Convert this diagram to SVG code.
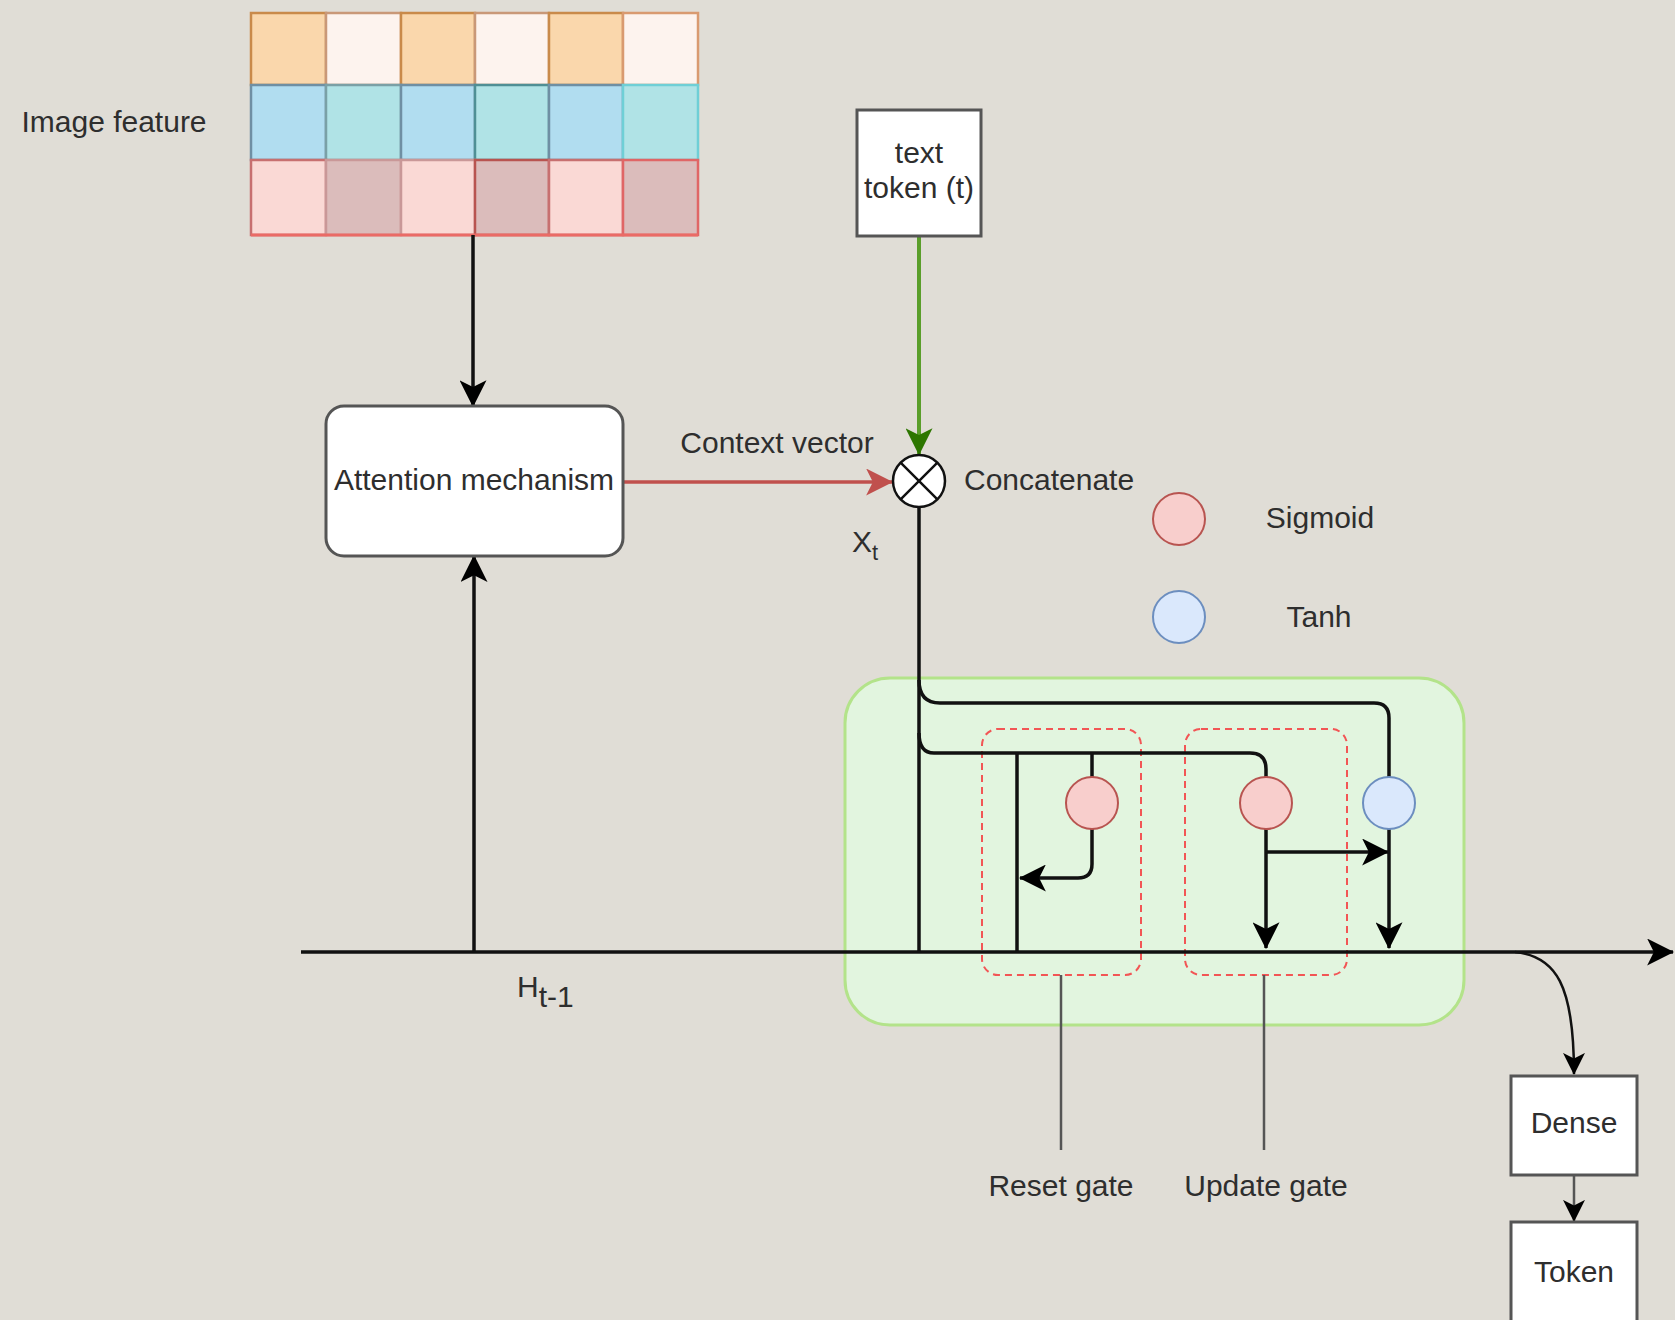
<svg xmlns="http://www.w3.org/2000/svg" width="1675" height="1320" viewBox="0 0 1675 1320">
<style>
text{font-family:"Liberation Sans",Arial,sans-serif;font-size:30px;fill:#2e2e2e;}
.mid{text-anchor:middle;}
.ln{fill:none;stroke:#111;stroke-width:3.5;}
.thin{fill:none;stroke:#555;stroke-width:2.5;}
.box{fill:#fff;stroke:#555;stroke-width:3;}
.dash{fill:none;stroke:#f25555;stroke-width:2;stroke-dasharray:7 5;}
.sig{fill:#f8cecc;stroke:#b85450;stroke-width:2;}
.tanh{fill:#dae8fc;stroke:#6c8ebf;stroke-width:2;}
</style>
<defs>
<marker id="a" viewBox="0 0 24 24" refX="23" refY="12" markerWidth="27" markerHeight="27" markerUnits="userSpaceOnUse" orient="auto"><path d="M0,0 L24,12 L0,24 L6,12 Z" fill="#000"/></marker>
<marker id="as" viewBox="0 0 24 24" refX="23" refY="12" markerWidth="22" markerHeight="22" markerUnits="userSpaceOnUse" orient="auto"><path d="M0,0 L24,12 L0,24 L6,12 Z" fill="#000"/></marker>
<marker id="ar" viewBox="0 0 24 24" refX="23" refY="12" markerWidth="27" markerHeight="27" markerUnits="userSpaceOnUse" orient="auto"><path d="M0,0 L24,12 L0,24 L6,12 Z" fill="#c0504d"/></marker>
<marker id="ag" viewBox="0 0 24 24" refX="23" refY="12" markerWidth="28" markerHeight="27" markerUnits="userSpaceOnUse" orient="auto"><path d="M0,0 L24,12 L0,24 L6,12 Z" fill="#2d7600"/></marker>
</defs>
<rect width="1675" height="1320" fill="#e0ddd6"/>

<g id="image-feature">
<rect x="251" y="13" width="75" height="72" fill="#fad7ac" stroke="#c98a4a" stroke-width="2.5"/>
<rect x="326" y="13" width="75" height="72" fill="#fdf3ee" stroke="#c99878" stroke-width="2.5"/>
<rect x="401" y="13" width="74" height="72" fill="#fad7ac" stroke="#c98a4a" stroke-width="2.5"/>
<rect x="475" y="13" width="74" height="72" fill="#fdf3ee" stroke="#c99878" stroke-width="2.5"/>
<rect x="549" y="13" width="74" height="72" fill="#fad7ac" stroke="#c98a4a" stroke-width="2.5"/>
<rect x="623" y="13" width="75" height="72" fill="#fdf3ee" stroke="#d99a70" stroke-width="2.5"/>
<rect x="251" y="85" width="75" height="75" fill="#b1ddf0" stroke="#6f8fa3" stroke-width="2.5"/>
<rect x="326" y="85" width="75" height="75" fill="#b0e3e6" stroke="#7aa0a6" stroke-width="2.5"/>
<rect x="401" y="85" width="74" height="75" fill="#b1ddf0" stroke="#6f8fa3" stroke-width="2.5"/>
<rect x="475" y="85" width="74" height="75" fill="#b0e3e6" stroke="#4f8f95" stroke-width="2.5"/>
<rect x="549" y="85" width="74" height="75" fill="#b1ddf0" stroke="#6f8fa3" stroke-width="2.5"/>
<rect x="623" y="85" width="75" height="75" fill="#b0e3e6" stroke="#6fcfd6" stroke-width="2.5"/>
<rect x="251" y="160" width="75" height="75" fill="#fad9d5" stroke="#c77070" stroke-width="2.5"/>
<rect x="326" y="160" width="75" height="75" fill="#dbbcbb" stroke="#c99898" stroke-width="2.5"/>
<rect x="401" y="160" width="74" height="75" fill="#fad9d5" stroke="#c99898" stroke-width="2.5"/>
<rect x="475" y="160" width="74" height="75" fill="#dbbcbb" stroke="#b85450" stroke-width="2.5"/>
<rect x="549" y="160" width="74" height="75" fill="#fad9d5" stroke="#c77070" stroke-width="2.5"/>
<rect x="623" y="160" width="75" height="75" fill="#dbbcbb" stroke="#e06666" stroke-width="2.5"/>
<line x1="251" y1="235" x2="698" y2="235" stroke="#ea6b66" stroke-width="3"/>
</g>
<g id="image-feature-label"><text class="mid" x="114" y="132">Image feature</text></g>

<g id="green-cell">
<rect x="845" y="678" width="619" height="347" rx="45" fill="#e2f5df" stroke="#b3e38a" stroke-width="3"/>
</g>
<g id="reset-gate-box"><rect x="982" y="729" width="159" height="246" rx="16" class="dash"/></g>
<g id="update-gate-box"><rect x="1185" y="729" width="162" height="246" rx="16" class="dash"/></g>

<g id="connectors">
<line x1="473" y1="235" x2="473" y2="406" class="ln" marker-end="url(#a)"/>
<line x1="301" y1="952" x2="1673" y2="952" class="ln" marker-end="url(#a)"/>
<line x1="474" y1="952" x2="474" y2="556" class="ln" marker-end="url(#a)"/>
<line x1="624" y1="482" x2="892" y2="482" fill="none" stroke="#c0504d" stroke-width="3.5" marker-end="url(#ar)"/>
<line x1="919" y1="237" x2="919" y2="454" fill="none" stroke="#5a9e2a" stroke-width="4" marker-end="url(#ag)"/>
<path d="M919,507 L919,952" class="ln"/>
<path d="M919,680 Q919,703 940,703 L1374,703 Q1389,703 1389,718 L1389,777" class="ln"/>
<path d="M919,733 Q919,753 934,753 L1250,753 Q1266,753 1266,769 L1266,777" class="ln"/>
<path d="M1017,753 L1017,952" class="ln"/>
<path d="M1092,753 L1092,777" class="ln"/>
<path d="M1092,829 L1092,864 Q1092,878 1078,878 L1020,878" class="ln" marker-end="url(#a)"/>
<path d="M1266,829 L1266,948" class="ln" marker-end="url(#a)"/>
<path d="M1266,852 L1388,852" class="ln" marker-end="url(#a)"/>
<path d="M1389,829 L1389,948" class="ln" marker-end="url(#a)"/>
<path d="M1515,952 C1556,956 1574,985 1574,1074" fill="none" stroke="#111" stroke-width="2.5" marker-end="url(#as)"/>
<path d="M1574,1175 L1574,1221" class="thin" marker-end="url(#as)"/>
<path d="M1061,975 L1061,1150" class="thin"/>
<path d="M1264,975 L1264,1150" class="thin"/>
</g>

<g id="attention">
<rect x="326" y="406" width="297" height="150" rx="18" class="box"/>
<text class="mid" x="474" y="490">Attention mechanism</text>
</g>
<g id="context-label"><text class="mid" x="777" y="453">Context vector</text></g>
<g id="text-token">
<rect x="857" y="110" width="124" height="126" class="box"/>
<text class="mid" x="919" y="163">text</text>
<text class="mid" x="919" y="198">token (t)</text>
</g>
<g id="concatenate">
<circle cx="919" cy="481" r="26" fill="#fff" stroke="#111" stroke-width="2.5"/>
<path d="M900.6,462.6 L937.4,499.4 M937.4,462.6 L900.6,499.4" stroke="#111" stroke-width="2.5"/>
<text x="964" y="490">Concatenate</text>
</g>
<g id="xt-label"><text x="852" y="552">X<tspan font-size="22" dy="8">t</tspan></text></g>
<g id="ht-label"><text x="517" y="997">H<tspan dy="10">t-1</tspan></text></g>

<g id="legend-sigmoid">
<circle cx="1179" cy="519" r="26" class="sig"/>
<text class="mid" x="1320" y="528">Sigmoid</text>
</g>
<g id="legend-tanh">
<circle cx="1179" cy="617" r="26" class="tanh"/>
<text class="mid" x="1319" y="627">Tanh</text>
</g>

<g id="reset-sigmoid"><ellipse cx="1092" cy="803" rx="26" ry="26" class="sig"/></g>
<g id="update-sigmoid"><ellipse cx="1266" cy="803" rx="26" ry="26" class="sig"/></g>
<g id="tanh-gate"><ellipse cx="1389" cy="803" rx="26" ry="26" class="tanh"/></g>

<g id="reset-label"><text class="mid" x="1061" y="1196">Reset gate</text></g>
<g id="update-label"><text class="mid" x="1266" y="1196">Update gate</text></g>

<g id="dense">
<rect x="1511" y="1076" width="126" height="99" class="box"/>
<text class="mid" x="1574" y="1133">Dense</text>
</g>
<g id="token">
<rect x="1511" y="1222" width="126" height="110" class="box"/>
<text class="mid" x="1574" y="1282">Token</text>
</g>
</svg>
